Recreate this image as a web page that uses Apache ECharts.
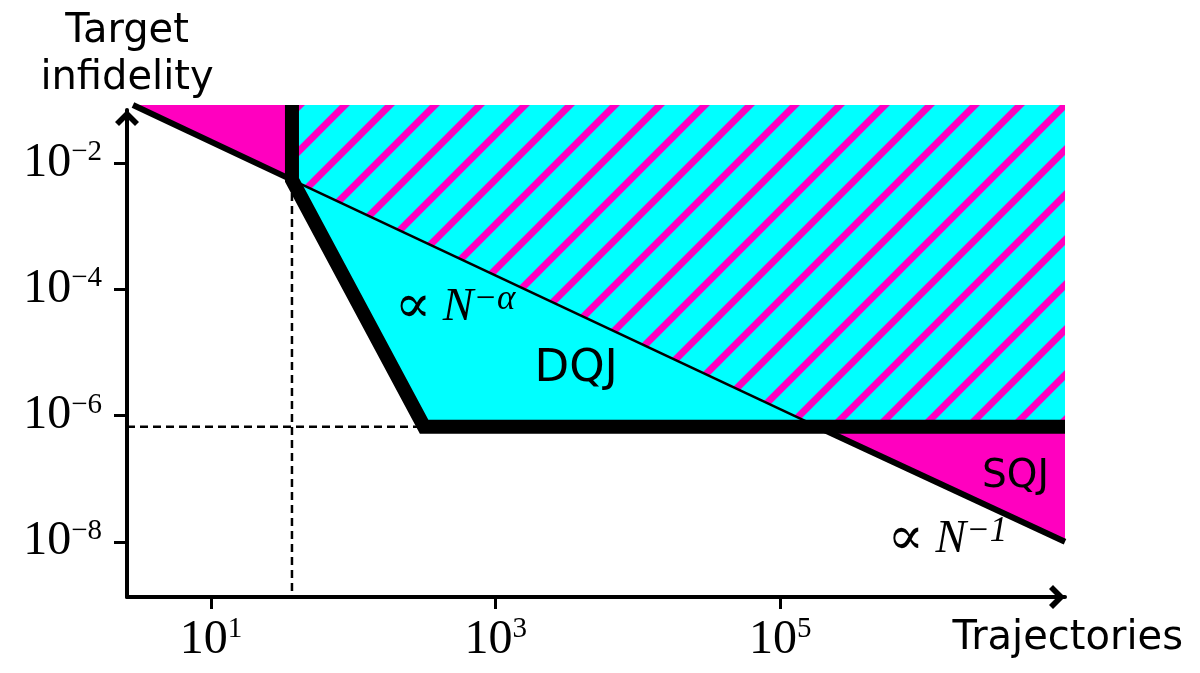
<!DOCTYPE html>
<html>
<head>
<meta charset="utf-8">
<title>index</title>
<style>
  html, body { margin: 0; padding: 0; background: #fff; }
  #container { width: 1200px; height: 673px; }
</style>
</head>
<body>
<div id="container"></div>
<script src="https://cdn.jsdelivr.net/npm/echarts@6/dist/echarts.min.js"></script>
<script>
// values are log10 exponents: x = log10(trajectories N), y = log10(target infidelity)
var xTicks = [1, 3, 5];
var yTicks = [-8, -6, -4, -2];

// the ~N^-1 line (thick where it bounds SQJ, thin across the DQJ part)
var n1X = [0.452, 1.569, 5.26, 7.0];
var n1Y = [-1.082, -2.268, -6.177, -8.0];

// thick black DQJ boundary
var boundX = [1.569, 1.569, 2.497, 7.0];
var boundY = [-1.082, -2.268, -6.177, -6.177];

// shaded regions
var pinkTopX = [0.452, 1.569, 1.569];
var pinkTopY = [-1.082, -1.082, -2.268];
var hatchX = [1.569, 7.0, 7.0, 5.26, 1.569];
var hatchY = [-1.082, -1.082, -6.177, -6.177, -2.268];
var dqjX = [1.569, 5.26, 2.497];
var dqjY = [-2.268, -6.177, -6.177];
var sqjX = [5.26, 7.0, 7.0];
var sqjY = [-6.177, -6.177, -8.0];

// dashed guides
var vGuideX = [1.569, 1.569];
var vGuideY = [-2.268, -8.875];
var hGuideX = [0.41, 2.497];
var hGuideY = [-6.177, -6.177];

var CYAN = '#00ffff';
var PINK = '#ff00bf';

function pairs(xs, ys) {
    return xs.map(function (x, i) { return [x, ys[i]]; });
}

function hatchCanvas() {
    var s = 45;
    var c = document.createElement('canvas');
    c.width = s; c.height = s;
    var g = c.getContext('2d');
    g.fillStyle = CYAN;
    g.fillRect(0, 0, s, s);
    g.strokeStyle = PINK;
    g.lineWidth = 7;
    g.beginPath();
    g.moveTo(0, s); g.lineTo(s, 0);
    g.moveTo(-s / 2, s / 2); g.lineTo(s / 2, -s / 2);
    g.moveTo(s / 2, 3 * s / 2); g.lineTo(3 * s / 2, s / 2);
    g.stroke();
    return c;
}

function polygon(xs, ys, fill) {
    return {
        type: 'custom',
        silent: true,
        clip: false,
        z: 1,
        data: pairs(xs, ys),
        renderItem: function (params, api) {
            if (params.dataIndex !== 0) return;
            var pts = xs.map(function (x, i) { return api.coord([x, ys[i]]); });
            return { type: 'polygon', shape: { points: pts }, style: { fill: fill } };
        }
    };
}

function line(data, width, z, type) {
    return {
        type: 'line',
        data: data,
        symbol: 'none',
        clip: false,
        silent: true,
        z: z,
        lineStyle: { color: '#000', width: width, type: type || 'solid', join: 'miter', cap: 'butt' }
    };
}

function powLabel(v) {
    var e = Math.round(v);
    return '{b|10}{s|' + (e < 0 ? '\u2212' + (-e) : e) + '}';
}

var tickRich = {
    b: { fontFamily: 'Liberation Serif', fontSize: 48, lineHeight: 50, color: '#000' },
    s: { fontFamily: 'Liberation Serif', fontSize: 29, lineHeight: 30, verticalAlign: 'top', color: '#000' }
};

var arrow = 'path://M0,12 L12,0 L24,12 L20,16 L12,8 L4,16 Z';

function tok(family, size, lh, extra) {
    var o = { fontFamily: family, fontSize: size, lineHeight: lh, color: '#000', textBorderWidth: 0, opacity: 1 };
    for (var k in extra) o[k] = extra[k];
    return o;
}
var mathRich = {
    p: tok('DejaVu Serif', 54, 50),
    n: tok('Liberation Serif', 46, 50, { fontStyle: 'italic' }),
    s: tok('Liberation Serif', 35, 32, { fontStyle: 'italic', verticalAlign: 'top' })
};
var sansRich = {
    t: tok('DejaVu Sans', 45, 50),
    u: tok('DejaVu Sans', 39, 44)
};

var dom = document.getElementById('container');
var myChart = echarts.init(dom);

var option = {
    animation: false,
    backgroundColor: '#fff',
    grid: { left: 127, right: 135, top: 110, bottom: 76 },
    xAxis: {
        type: 'value',
        min: 0.41,
        max: 7.0,
        name: 'Trajectories',
        nameLocation: 'end',
        nameGap: 118,
        nameTextStyle: {
            fontFamily: 'DejaVu Sans', fontSize: 40, lineHeight: 48, color: '#000',
            align: 'right', verticalAlign: 'top', padding: [18, 0, 0, 0]
        },
        axisLine: {
            show: true, onZero: false,
            lineStyle: { color: '#000', width: 4 },
            symbol: ['none', arrow], symbolSize: [24, 22], symbolOffset: [0, -8]
        },
        axisTick: { show: true, customValues: xTicks, length: 12, lineStyle: { color: '#000', width: 3 } },
        axisLabel: { customValues: xTicks, formatter: powLabel, rich: tickRich, margin: 18 },
        splitLine: { show: false }
    },
    yAxis: {
        type: 'value',
        min: -8.875,
        max: -1.161,
        name: 'Target\ninfidelity',
        nameLocation: 'end',
        nameGap: 8,
        nameTextStyle: { fontFamily: 'DejaVu Sans', fontSize: 40, lineHeight: 47, color: '#000', align: 'center' },
        axisLine: {
            show: true, onZero: false,
            lineStyle: { color: '#000', width: 4 },
            symbol: ['none', arrow], symbolSize: [24, 22], symbolOffset: [0, -8]
        },
        axisTick: { show: true, customValues: yTicks, length: 13, lineStyle: { color: '#000', width: 3 } },
        axisLabel: { customValues: yTicks, formatter: powLabel, rich: tickRich, margin: 25 },
        splitLine: { show: false }
    },
    series: [
        polygon(pinkTopX, pinkTopY, PINK),
        polygon(hatchX, hatchY, { image: hatchCanvas(), repeat: 'repeat' }),
        polygon(dqjX, dqjY, CYAN),
        polygon(sqjX, sqjY, PINK),
        line(pairs(vGuideX, vGuideY), 2.5, 2, [8, 5]),
        line(pairs(hGuideX, hGuideY), 2.5, 2, [8, 5]),
        line(pairs(n1X.slice(0, 2), n1Y.slice(0, 2)), 6, 3),
        line(pairs(n1X.slice(1, 3), n1Y.slice(1, 3)), 2.5, 3),
        line(pairs(n1X.slice(2), n1Y.slice(2)), 6, 3),
        line(pairs(boundX, boundY), 14, 4),
        {
            type: 'scatter',
            symbolSize: 0,
            silent: true,
            z: 5,
            itemStyle: { opacity: 1 },
            label: { show: true, position: 'inside', color: '#000', textBorderWidth: 0, opacity: 1 },
            data: [
                { value: [2.715, -4.294], label: { formatter: '{p|\u221d}{n| N}{s|\u2212\u03b1}', rich: mathRich } },
                { value: [3.566, -5.275], label: { formatter: '{t|DQJ}', rich: sansRich } },
                { value: [6.652, -6.968], label: { formatter: '{u|SQJ}', rich: sansRich } },
                { value: [6.174, -7.965], label: { formatter: '{p|\u221d}{n| N}{s|\u22121}', rich: mathRich } }
            ]
        }
    ]
};

if (option && typeof option === 'object') {
    myChart.setOption(option, true);
}
</script>
</body>
</html>
